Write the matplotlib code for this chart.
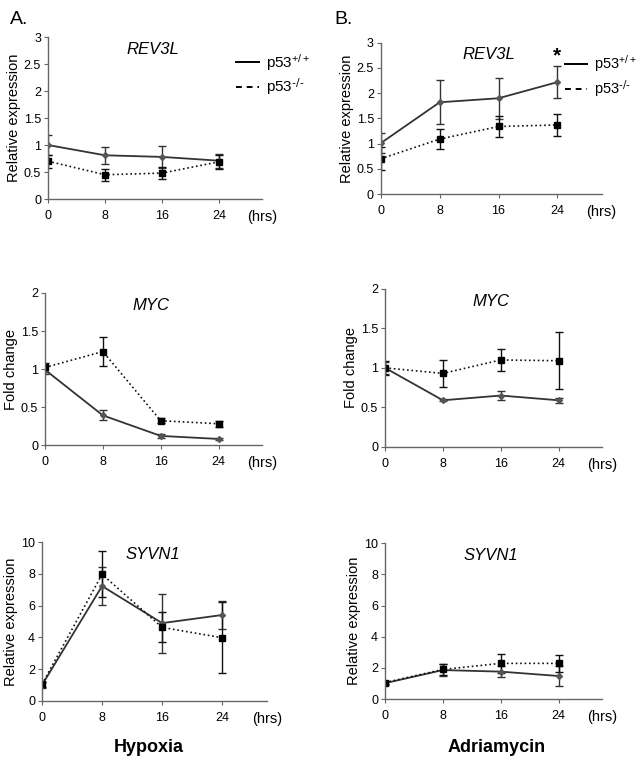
import numpy as np
import matplotlib
matplotlib.use("Agg")
import matplotlib.pyplot as plt
from matplotlib.lines import Line2D

plt.rcParams['font.family'] = ['Liberation Sans', 'DejaVu Sans']
plt.rcParams['mathtext.default'] = 'regular'

hours = [0, 8, 16, 24]

# REV3L, hypoxia (A) and adriamycin (B)
rev3l_hyp_wt = [1.0, 0.81, 0.78, 0.71]
rev3l_hyp_wt_err = [0.18, 0.16, 0.21, 0.13]
rev3l_hyp_ko = [0.70, 0.45, 0.48, 0.69]
rev3l_hyp_ko_err = [0.12, 0.11, 0.11, 0.13]

rev3l_adr_wt = [1.01, 1.82, 1.90, 2.22]
rev3l_adr_wt_err = [0.20, 0.44, 0.41, 0.31]
rev3l_adr_ko = [0.70, 1.09, 1.34, 1.37]
rev3l_adr_ko_err = [0.23, 0.20, 0.20, 0.22]

# MYC
myc_hyp_wt = [0.99, 0.39, 0.12, 0.08]
myc_hyp_wt_err = [0.05, 0.065, 0.03, 0.01]
myc_hyp_ko = [1.02, 1.23, 0.32, 0.28]
myc_hyp_ko_err = [0.06, 0.19, 0.03, 0.04]

myc_adr_wt = [1.0, 0.59, 0.65, 0.59]
myc_adr_wt_err = [0.08, 0.01, 0.06, 0.03]
myc_adr_ko = [1.0, 0.93, 1.10, 1.09]
myc_adr_ko_err = [0.09, 0.17, 0.14, 0.36]

# SYVN1
syvn1_hyp_wt = [1.0, 7.23, 4.90, 5.41]
syvn1_hyp_wt_err = [0.2, 1.2, 1.85, 0.9]
syvn1_hyp_ko = [1.05, 7.97, 4.63, 3.98]
syvn1_hyp_ko_err = [0.15, 1.45, 0.95, 2.25]

syvn1_adr_wt = [1.02, 1.86, 1.76, 1.48]
syvn1_adr_wt_err = [0.1, 0.4, 0.35, 0.63]
syvn1_adr_ko = [1.06, 1.90, 2.29, 2.29]
syvn1_adr_ko_err = [0.1, 0.35, 0.63, 0.53]

fig = plt.figure(figsize=(6.4, 7.64), dpi=100)

def panel(rect, gene, ylabel, ymax, ystep, wt, wt_err, ko, ko_err):
    ax = fig.add_axes(rect)
    ax.errorbar(hours, wt, yerr=wt_err, color='#333333', lw=1.3, marker='D', ms=3,
                mfc='#555555', mec='#555555', capsize=3, elinewidth=1, capthick=1)
    ax.errorbar(hours, ko, yerr=ko_err, color='#111111', lw=1.2, ls=':', marker='s', ms=4,
                mfc='black', mec='black', capsize=3, elinewidth=1, capthick=1)
    ax.set_xlim(0, 30)
    ax.set_ylim(0, ymax)
    ax.set_xticks(hours)
    yt = np.arange(0, ymax + ystep / 2, ystep)
    ax.set_yticks(yt)
    ax.set_yticklabels(['%g' % v for v in yt])
    for s in ['top', 'right']:
        ax.spines[s].set_visible(False)
    for s in ['left', 'bottom']:
        ax.spines[s].set_color('#666666')
        ax.spines[s].set_linewidth(1)
    ax.tick_params(axis='y', labelsize=9, length=3, color='#666666', pad=2)
    ax.tick_params(axis='x', labelsize=9, length=3, color='#666666', pad=5)
    ax.set_ylabel(ylabel, fontsize=10.5, labelpad=2)
    ax.text(0.49, 0.97, gene, transform=ax.transAxes, ha='center', va='top',
            style='italic', fontsize=12)
    ax.text(30, -0.07 * ymax, '(hrs)', ha='center', va='top', fontsize=10.5,
            clip_on=False)
    return ax

axA1 = panel([0.075, 0.7395, 0.334, 0.212], 'REV3L', 'Relative expression', 3, 0.5,
             rev3l_hyp_wt, rev3l_hyp_wt_err, rev3l_hyp_ko, rev3l_hyp_ko_err)
axB1 = panel([0.595, 0.746, 0.345, 0.198], 'REV3L', 'Relative expression', 3, 0.5,
             rev3l_adr_wt, rev3l_adr_wt_err, rev3l_adr_ko, rev3l_adr_ko_err)
axA2 = panel([0.0703, 0.4175, 0.339, 0.199], 'MYC', 'Fold change', 2, 0.5,
             myc_hyp_wt, myc_hyp_wt_err, myc_hyp_ko, myc_hyp_ko_err)
axB2 = panel([0.6016, 0.415, 0.339, 0.207], 'MYC', 'Fold change', 2, 0.5,
             myc_adr_wt, myc_adr_wt_err, myc_adr_ko, myc_adr_ko_err)
axA3 = panel([0.0656, 0.0825, 0.352, 0.208], 'SYVN1', 'Relative expression', 10, 2,
             syvn1_hyp_wt, syvn1_hyp_wt_err, syvn1_hyp_ko, syvn1_hyp_ko_err)
axB3 = panel([0.6016, 0.085, 0.339, 0.204], 'SYVN1', 'Relative expression', 10, 2,
             syvn1_adr_wt, syvn1_adr_wt_err, syvn1_adr_ko, syvn1_adr_ko_err)

# significance star
axB1.text(24, 2.55, '*', ha='center', va='bottom', fontsize=15, fontweight='bold')

handles = [Line2D([], [], color='black', lw=1.4),
           Line2D([], [], color='black', lw=1.4, ls=(0, (3, 2.5)))]
labels = ['p53$^{+/+}$', 'p53$^{\\text{-/-}}$']
for ax, anchor, fs in [(axA1, (0.88, 0.91), 11), (axB1, (0.835, 0.93), 10.5)]:
    ax.legend(handles, labels, loc='upper left', bbox_to_anchor=anchor, frameon=False,
              fontsize=fs, handlelength=1.5, handletextpad=0.45, labelspacing=0.25,
              borderaxespad=0, borderpad=0)

fig.text(0.015, 0.985, 'A.', fontsize=14, va='top')
fig.text(0.522, 0.985, 'B.', fontsize=14, va='top')
fig.text(0.232, 0.016, 'Hypoxia', fontsize=13, fontweight='bold', ha='center')
fig.text(0.776, 0.016, 'Adriamycin', fontsize=13, fontweight='bold', ha='center')

fig.savefig('out.png', dpi=100)
